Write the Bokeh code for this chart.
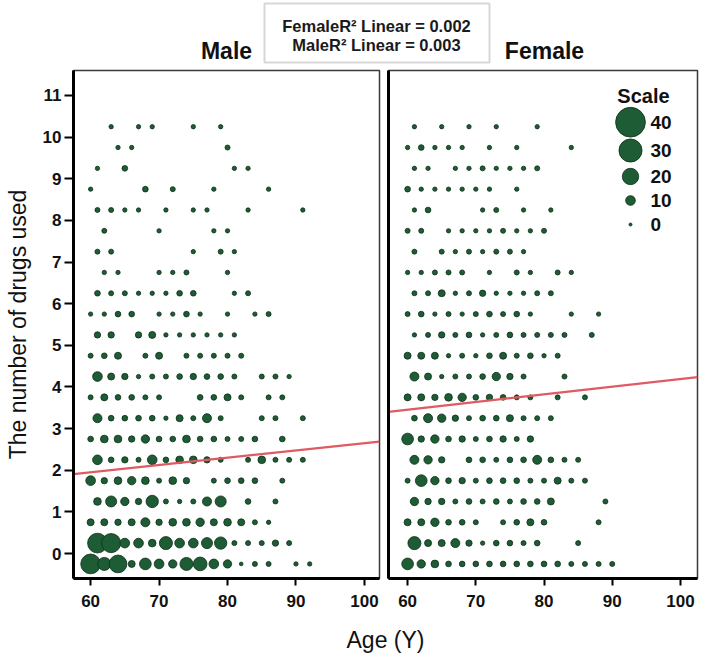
import numpy as np
from bokeh.plotting import figure
from bokeh.models import Range1d, FixedTicker, LinearAxis, BoxAnnotation, ColumnDataSource
from bokeh.layouts import column, row
from bokeh.embed import file_html
from bokeh.resources import INLINE
from bokeh.core.properties import value

# ---------------- data ----------------
panel_titles = ["Male", "Female"]
r2_female = 0.002
r2_male = 0.003
x_ticks = [60, 70, 80, 90, 100]
y_ticks = list(range(0, 12))
x_label = "Age (Y)"
y_label = "The number of drugs used"

# bins of the number of drugs (row positions), top to bottom
row_y = [10.25, 9.75, 9.25, 8.75, 8.25, 7.75, 7.25, 6.75, 6.25, 5.75, 5.25,
         4.75, 4.25, 3.75, 3.25, 2.75, 2.25, 1.75, 1.25, 0.75, 0.25, -0.25]

male_ages = [
    [63, 67, 69, 75, 79],
    [64, 66, 80],
    [61, 65, 81, 83],
    [60, 68, 72, 78, 86],
    [61, 63, 65, 67, 71, 75, 77, 83, 91],
    [62, 70, 78, 80],
    [61, 63, 75, 79, 81],
    [62, 64, 70, 72, 74, 80],
    [61, 63, 65, 67, 69, 71, 73, 75, 81, 83],
    [60, 62, 64, 66, 70, 72, 74, 76, 80, 84, 86],
    [61, 63, 67, 69, 71, 73, 75, 77, 79, 81],
    [60, 62, 64, 68, 70, 74, 76, 78, 80, 82],
    [61, 63, 65, 67, 69, 71, 73, 75, 77, 79, 81, 85, 87, 89],
    [60, 62, 64, 66, 68, 70, 76, 78, 80, 82, 86, 88],
    [61, 63, 65, 67, 69, 71, 73, 75, 77, 79, 85, 87, 91],
    [60, 62, 64, 66, 68, 70, 72, 74, 76, 78, 80, 82, 84, 88],
    [61, 63, 65, 67, 69, 71, 73, 75, 77, 79, 83, 85, 87, 89, 91],
    [60, 62, 64, 66, 68, 70, 72, 74, 78, 80, 82, 84, 88],
    [61, 63, 65, 67, 69, 71, 73, 75, 77, 79, 83, 87],
    [60, 62, 64, 66, 68, 70, 72, 74, 76, 78, 80, 82, 84, 86],
    [61, 63, 65, 67, 69, 71, 73, 75, 77, 79, 81, 83, 85, 87, 89],
    [60, 62, 64, 66, 68, 70, 72, 74, 76, 78, 80, 82, 84, 86, 90, 92],
]
male_counts = [
    [2, 2, 2, 2, 2],
    [2, 2, 3],
    [2, 4, 2, 2],
    [2, 4, 3, 2, 2],
    [3, 3, 2, 2, 2, 2, 2, 2, 2],
    [3, 2, 2, 2],
    [3, 3, 2, 3, 2],
    [2, 2, 2, 2, 3, 2],
    [4, 3, 3, 2, 2, 2, 4, 4, 2, 3],
    [2, 2, 4, 4, 2, 2, 4, 2, 2, 2, 3],
    [5, 5, 5, 6, 2, 2, 2, 2, 2, 2],
    [3, 4, 6, 3, 6, 3, 3, 3, 3, 3],
    [10, 6, 5, 2, 3, 3, 4, 5, 4, 4, 3, 3, 3, 2],
    [3, 6, 4, 4, 3, 3, 4, 4, 6, 3, 3, 3],
    [9, 4, 4, 4, 4, 2, 6, 3, 9, 3, 3, 3, 3],
    [4, 7, 7, 5, 8, 4, 4, 7, 4, 4, 3, 3, 4, 4],
    [10, 4, 5, 3, 10, 4, 7, 7, 5, 3, 3, 7, 3, 3, 3],
    [10, 5, 7, 8, 7, 3, 7, 5, 3, 4, 4, 4, 3],
    [7, 12, 8, 5, 14, 3, 2, 3, 9, 12, 4, 3],
    [6, 6, 5, 6, 9, 5, 7, 7, 8, 6, 7, 6, 3, 2],
    [25, 24, 10, 10, 7, 15, 10, 10, 12, 14, 3, 3, 3, 5, 3],
    [25, 15, 22, 6, 13, 10, 8, 15, 16, 10, 8, 1, 3, 3, 2, 2],
]

female_ages = [
    [61, 65, 69, 73, 79],
    [60, 62, 64, 66, 68, 72, 76, 84],
    [61, 63, 67, 69, 71, 73, 75, 77, 79],
    [60, 62, 64, 66, 68, 70, 72, 76],
    [61, 63, 71, 73, 77, 81],
    [60, 62, 66, 68, 70, 72, 74, 76, 78, 80],
    [61, 65, 67, 69, 71, 73, 75, 77],
    [60, 62, 64, 66, 68, 72, 76, 78, 82, 84],
    [61, 63, 65, 67, 69, 71, 73, 75, 77, 79, 81],
    [60, 62, 64, 66, 68, 70, 72, 74, 76, 78, 84, 88],
    [61, 63, 65, 67, 69, 71, 73, 75, 77, 79, 81, 83, 87],
    [60, 62, 64, 66, 68, 70, 72, 74, 76, 78, 80, 82],
    [61, 63, 65, 67, 69, 71, 73, 75, 77, 83],
    [60, 62, 64, 66, 68, 70, 72, 74, 76, 78, 82, 86],
    [61, 63, 65, 67, 69, 71, 73, 75, 77, 79, 81],
    [60, 62, 64, 66, 68, 70, 72, 74, 76, 78],
    [61, 63, 65, 69, 71, 73, 75, 77, 79, 81, 83, 85],
    [60, 62, 64, 66, 68, 70, 72, 74, 76, 78, 80, 82, 84, 86],
    [61, 63, 65, 67, 69, 71, 73, 75, 77, 79, 81, 89],
    [60, 62, 64, 66, 68, 70, 74, 76, 78, 80, 88],
    [61, 63, 65, 67, 69, 71, 73, 75, 77, 79, 85],
    [60, 62, 64, 66, 68, 70, 72, 74, 76, 78, 80, 82, 84, 86, 88, 90],
]
female_counts = [
    [2, 2, 2, 2, 2],
    [2, 4, 2, 2, 2, 2, 2, 2],
    [2, 2, 2, 2, 3, 2, 2, 2, 3],
    [4, 2, 2, 2, 2, 2, 2, 2],
    [2, 4, 2, 3, 2, 2],
    [3, 3, 2, 2, 2, 2, 3, 2, 2, 3],
    [3, 3, 2, 3, 2, 3, 3, 2],
    [2, 2, 3, 3, 3, 2, 3, 2, 3, 2],
    [3, 3, 6, 2, 3, 5, 2, 2, 2, 3, 3],
    [3, 4, 2, 3, 2, 3, 4, 3, 4, 2, 2, 2],
    [2, 3, 5, 3, 4, 2, 3, 4, 3, 3, 3, 3, 3],
    [6, 6, 6, 2, 3, 2, 4, 6, 3, 4, 2, 3],
    [9, 6, 2, 3, 3, 4, 8, 5, 3, 3],
    [6, 6, 5, 7, 8, 4, 5, 4, 3, 3, 3, 3],
    [4, 9, 8, 5, 3, 4, 4, 6, 3, 3, 3],
    [13, 5, 8, 4, 5, 3, 4, 5, 3, 5],
    [9, 8, 5, 4, 4, 3, 4, 4, 9, 4, 3, 3],
    [3, 13, 8, 4, 5, 3, 4, 4, 4, 3, 3, 6, 3, 3],
    [8, 5, 5, 3, 4, 3, 4, 3, 4, 4, 6, 3],
    [6, 6, 8, 4, 4, 3, 3, 4, 6, 4, 3],
    [15, 6, 6, 9, 5, 2, 4, 4, 3, 4, 3],
    [13, 8, 7, 4, 4, 4, 4, 4, 4, 4, 4, 4, 3, 3, 3, 3],
]

# linear fits (intercept, slope)
male_fit = (0.90, 0.0175)
female_fit = (2.342, 0.0185)

scale_values = [40, 30, 20, 10, 0]

# ---------------- style ----------------
FONT = "Liberation Sans"
GREEN = "#1d5c34"
EDGE = "#0e2e18"
RED = "#e05a62"
FRAME_H = 508
TOP_H = 64
PANEL_H = 554
BOTTOM_H = 38


def dot_size(n):
    return 3 + 0.67 * np.asarray(n, dtype=float)


def flatten(ys, ages, counts):
    xs, yy, ns = [], [], []
    for y, a, c in zip(ys, ages, counts):
        xs += a
        yy += [y] * len(a)
        ns += c
    return dict(x=xs, y=yy, n=ns, s=list(dot_size(ns)))


def style_axis(ax):
    ax.axis_line_width = 3
    ax.axis_line_color = "black"
    ax.major_tick_line_width = 2
    ax.major_tick_line_color = "black"
    ax.major_tick_in = 0
    ax.minor_tick_line_color = None
    ax.major_label_text_font = FONT
    ax.major_label_text_font_style = "bold"
    ax.major_label_text_font_size = "17px"
    ax.major_label_text_color = "#111111"


def panel(width, left, right, xr, ages, counts, fit, with_yaxis):
    p = figure(width=width, height=PANEL_H, output_backend="svg", toolbar_location=None,
               x_range=Range1d(*xr), y_range=Range1d(-0.6, 11.6),
               x_axis_type=None, y_axis_type=None,
               min_border_left=left, min_border_right=right,
               min_border_top=6, min_border_bottom=PANEL_H - 6 - FRAME_H)
    p.outline_line_color = "#3a3a3a"
    p.outline_line_width = 1.5
    p.background_fill_color = "white"
    p.border_fill_color = "white"

    xa = LinearAxis(ticker=FixedTicker(ticks=x_ticks))
    style_axis(xa)
    xa.major_tick_out = 7
    xa.major_label_standoff = 9
    p.add_layout(xa, "below")

    if with_yaxis:
        ya = LinearAxis(ticker=FixedTicker(ticks=y_ticks), axis_label=y_label)
        style_axis(ya)
        ya.major_tick_out = 9
        ya.major_label_standoff = 3
        ya.axis_label_standoff = 9
        ya.axis_label_text_font = FONT
        ya.axis_label_text_font_style = "normal"
        ya.axis_label_text_font_size = "23px"
        ya.axis_label_text_color = "#111111"
    else:
        ya = LinearAxis(ticker=FixedTicker(ticks=[]))
        style_axis(ya)
        ya.major_tick_out = 0
    p.add_layout(ya, "left")

    src = ColumnDataSource(flatten(row_y, ages, counts))
    p.scatter("x", "y", size="s", source=src, marker="circle",
              fill_color=GREEN, line_color=EDGE, line_width=0.8)

    a, b = fit
    x0, x1 = xr
    p.line([x0, x1], [a + b * x0, a + b * x1], line_color=RED, line_width=2.2)
    return p


# male frame: x 73..379 ; female frame: x 388..697 (page pixels)
male = panel(383, 73, 4, (57.5, 102.2), male_ages, male_counts, male_fit, True)
female = panel(323, 5, 9, (57.2, 102.5), female_ages, female_counts, female_fit, False)

# size legend inside the female panel (frame pixel coordinates)
fw = 309
female.extra_x_ranges = {"px": Range1d(0, fw)}
female.extra_y_ranges = {"px": Range1d(FRAME_H, 0)}
leg_y = [51.7, 80, 106, 130, 154]
female.scatter([242] * len(scale_values), leg_y, size=list(dot_size(scale_values)),
               marker="circle", fill_color=GREEN, line_color=EDGE, line_width=0.8,
               x_range_name="px", y_range_name="px")
female.text([262] * len(scale_values), leg_y, text=[str(v) for v in scale_values],
            text_font=value(FONT), text_font_style="bold", text_font_size="19px",
            text_align="left", text_baseline="middle", text_color="#111111",
            x_range_name="px", y_range_name="px")
female.text([255], [25], text=["Scale"], text_font=value(FONT), text_font_style="bold",
            text_font_size="20px", text_align="center", text_baseline="middle",
            text_color="#111111", x_range_name="px", y_range_name="px")

# top strip: panel titles and R2 box
top = figure(width=706, height=TOP_H, output_backend="svg", toolbar_location=None,
             x_range=Range1d(0, 706), y_range=Range1d(TOP_H, 0),
             x_axis_type=None, y_axis_type=None, min_border=0)
top.outline_line_color = None
top.add_layout(BoxAnnotation(left=264, right=489, top=3, bottom=62,
                             fill_color=None, line_color="#7a7a7a", line_width=2))
top.text([376, 376], [25, 44],
         text=[f"{panel_titles[1]}R\u00b2 Linear = {r2_female:.3f}",
               f"{panel_titles[0]}R\u00b2 Linear = {r2_male:.3f}"],
         text_font=value(FONT), text_font_style="bold", text_font_size="16.5px",
         text_align="center", text_baseline="middle", text_color="#1a1a1a")
top.text([226, 544], [50, 50], text=panel_titles,
         text_font=value(FONT), text_font_style="bold", text_font_size="23px",
         text_align="center", text_baseline="middle", text_color="#111111")

# bottom strip: x axis title
bottom = figure(width=706, height=BOTTOM_H, output_backend="svg", toolbar_location=None,
                x_range=Range1d(0, 706), y_range=Range1d(BOTTOM_H, 0),
                x_axis_type=None, y_axis_type=None, min_border=0)
bottom.outline_line_color = None
bottom.text([385], [21], text=[x_label], text_font=value(FONT), text_font_size="23px",
            text_align="center", text_baseline="middle", text_color="#111111")

layout = column(top, row(male, female), bottom)
open("out.html", "w").write(file_html(layout, INLINE))
